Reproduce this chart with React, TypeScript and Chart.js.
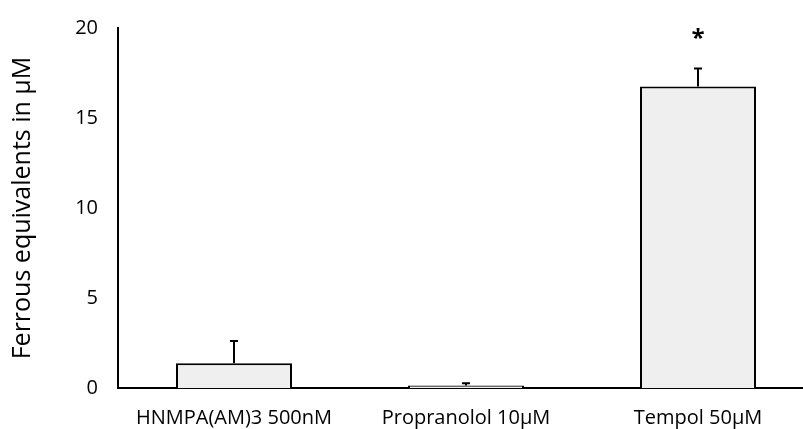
import React, { useEffect, useRef } from "react";
import { Chart, registerables } from "chart.js";

Chart.register(...registerables);

const categories = ["HNMPA(AM)3 500nM", "Propranolol 10µM", "Tempol 50µM"];
const means = [1.38, 0.14, 16.75];
const errors = [1.23, 0.12, 1.0];
const significance = ["", "", "*"];
const yTicks = [0, 5, 10, 15, 20];

const FONT = "'Open Sans', 'Noto Sans', sans-serif";

const errorBarPlugin = {
  id: "errorBars",
  afterDatasetsDraw(chart: any) {
    const { ctx } = chart;
    const meta = chart.getDatasetMeta(0);
    const yScale = chart.scales.y;
    ctx.save();
    ctx.strokeStyle = "#000";
    ctx.lineWidth = 2;
    meta.data.forEach((bar: any, i: number) => {
      const x = bar.x;
      const yTop = yScale.getPixelForValue(means[i] + errors[i]);
      const yBase = yScale.getPixelForValue(means[i]);
      ctx.beginPath();
      ctx.moveTo(x, yBase);
      ctx.lineTo(x, yTop);
      ctx.moveTo(x - 4, yTop);
      ctx.lineTo(x + 4, yTop);
      ctx.stroke();
      if (significance[i]) {
        ctx.fillStyle = "#000";
        ctx.font = `bold 24px ${FONT}`;
        ctx.textAlign = "center";
        ctx.textBaseline = "middle";
        ctx.fillText(significance[i], x, yTop - 29);
      }
    });
    ctx.restore();
  },
};

export default function App() {
  const ref = useRef<HTMLCanvasElement>(null);
  useEffect(() => {
    if (!ref.current) return;
    const chart = new Chart(ref.current, {
      type: "bar",
      data: {
        labels: categories,
        datasets: [
          {
            data: means,
            backgroundColor: "#efefef",
            borderColor: "#000",
            borderWidth: 2,
            borderSkipped: "bottom",
            categoryPercentage: 1,
            barPercentage: 0.5,
          },
        ],
      },
      options: {
        animation: false,
        responsive: false,
        maintainAspectRatio: false,
        layout: { padding: { top: 28, right: 2, left: 0, bottom: 0 } },
        plugins: { legend: { display: false }, tooltip: { enabled: false } },
        scales: {
          x: {
            grid: { display: false, drawTicks: false },
            border: { display: true, color: "#000", width: 2 },
            ticks: { color: "#000", font: { family: FONT, size: 20 }, padding: 18, maxRotation: 0, autoSkip: false },
            afterFit(scale: any) {
              scale.height = 41;
              scale.paddingLeft = 0;
              scale.paddingRight = 0;
            },
          },
          y: {
            min: 0,
            max: 20,
            afterBuildTicks(scale: any) {
              scale.ticks = yTicks.map((v) => ({ value: v }));
            },
            grid: { display: false, drawTicks: false },
            border: { display: true, color: "#000", width: 2 },
            ticks: { color: "#000", font: { family: FONT, size: 20 }, padding: 20 },
            title: {
              display: true,
              text: "Ferrous equivalents in µM",
              color: "#000",
              font: { family: FONT, size: 25 },
              padding: { top: 8, bottom: 0 },
            },
            afterFit(scale: any) {
              scale.width = 118;
              scale.paddingTop = 0;
              scale.paddingBottom = 0;
            },
          },
        },
      },
      plugins: [errorBarPlugin],
    });
    return () => chart.destroy();
  }, []);
  return (
    <div style={{ position: "fixed", left: 0, top: 0, width: 803, height: 429, overflow: "hidden", background: "#fff" }}>
      <canvas ref={ref} width={816} height={429} style={{ display: "block" }} />
    </div>
  );
}
